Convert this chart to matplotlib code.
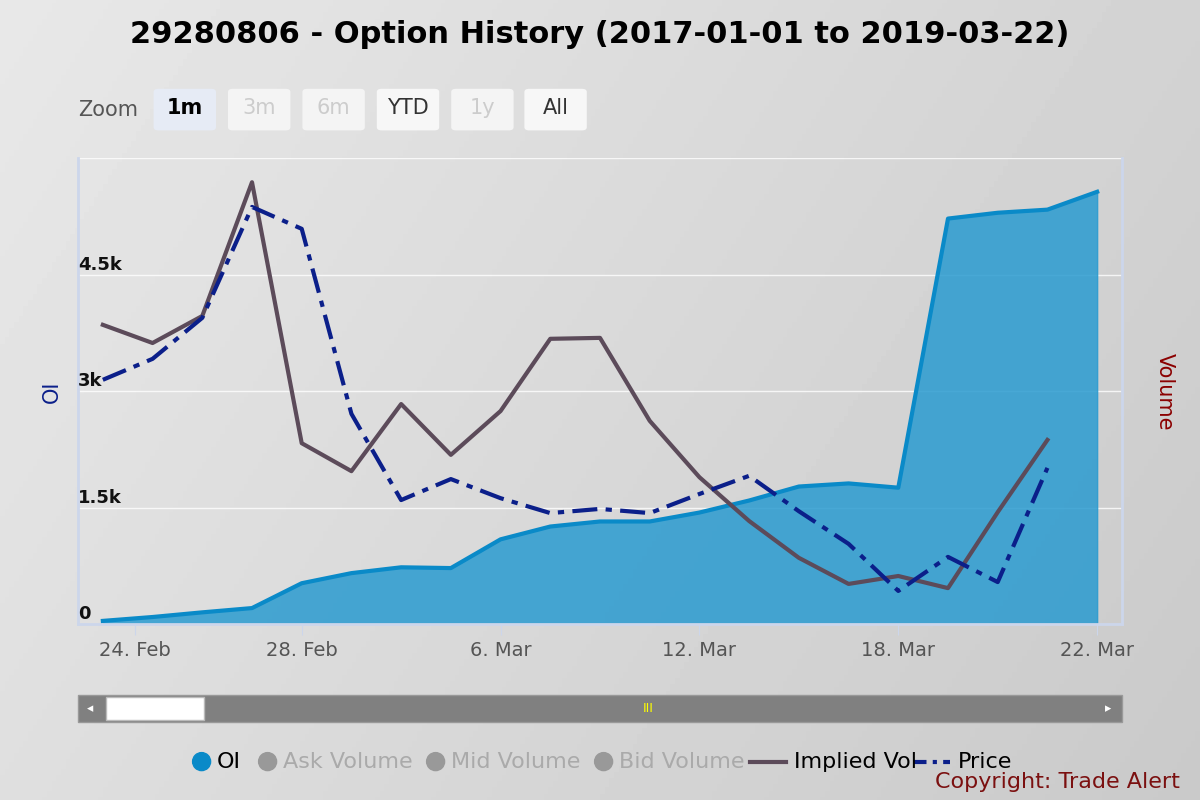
import numpy as np
import matplotlib.pyplot as plt
from matplotlib.patches import Rectangle, FancyBboxPatch, Ellipse

dates = ["22 Feb", "25 Feb", "26 Feb", "27 Feb", "28 Feb", "1 Mar", "4 Mar", "5 Mar", "6 Mar",
         "7 Mar", "8 Mar", "11 Mar", "12 Mar", "13 Mar", "14 Mar", "15 Mar", "18 Mar",
         "19 Mar", "20 Mar", "21 Mar", "22 Mar"]
oi = [40, 90, 150, 205, 525, 655, 730, 720, 1090, 1255, 1320, 1320, 1435, 1590, 1770,
      1810, 1755, 5220, 5295, 5335, 5565]
implied_vol = [64.2, 60.3, 66.1, 94.8, 38.8, 32.8, 47.2, 36.3, 45.7, 61.2, 61.4, 43.6,
               31.5, 22.1, 14.2, 8.6, 10.3, 7.7, 24.0, 39.5]
price = [52.4, 56.9, 65.7, 89.5, 84.8, 45.1, 26.6, 31.1, 27.0, 23.8, 24.7, 23.8, 27.9,
         31.8, 24.2, 17.2, 7.1, 14.4, 9.0, 33.5]
tick_pos = [0.64, 4, 8, 12, 16, 20]
tick_labels = ["24. Feb", "28. Feb", "6. Mar", "12. Mar", "18. Mar", "22. Mar"]

fig = plt.figure(figsize=(12, 8), dpi=100)
bg = fig.add_axes([0, 0, 1, 1], zorder=-10)
grad = np.linspace(0, 1, 256)
bg.imshow(0.91 - 0.12 * (grad[None, :] * 0.7 + grad[:, None] * 0.3), cmap="gray",
          vmin=0, vmax=1, aspect="auto", extent=[0, 1, 0, 1])
bg.set_axis_off()

ax = fig.add_axes([0.065, 0.22, 0.87, 0.5825])
ax.patch.set_alpha(0)
x = np.arange(len(oi))
ax.fill_between(x, oi, color="#2a9bd0", alpha=0.85, zorder=2)
ax.plot(x, oi, color="#0a8ac8", lw=3, zorder=3)
ax.set_xlim(-0.5, 20.5)
ax.set_ylim(0, 6000)
ax.set_yticks([0, 1500, 3000, 4500, 6000])
ax.set_yticklabels([])
ax.tick_params(axis="y", length=0)
ax.grid(axis="y", color="white", lw=1, alpha=0.8)
for v, lab in [(0, "0"), (1500, "1.5k"), (3000, "3k"), (4500, "4.5k")]:
    ax.text(0.0, v + 60, lab, transform=ax.get_yaxis_transform(), fontsize=13,
            fontweight="bold", color="#111")
ax.set_xticks(tick_pos)
ax.set_xticklabels(tick_labels, fontsize=14, color="#555")
ax.tick_params(axis="x", length=8, color="#ccd6eb", pad=4)
for s in ["top", "right"]:
    ax.spines[s].set_visible(False)
ax.spines["left"].set_color("#ccd6eb")
ax.spines["left"].set_linewidth(2)
ax.spines["bottom"].set_color("#ccd6eb")
ax.spines["bottom"].set_linewidth(2)

ax2 = ax.twinx()
ax2.set_ylim(0, 100)
ax2.plot(x[:len(implied_vol)], implied_vol, color="#5c4b5a", lw=3, zorder=4)
ax2.plot(x[:len(price)], price, color="#0b1f8a", lw=3, ls=(0, (6, 2, 1.5, 2)), zorder=5)
ax2.set_yticks([])
ax2.spines["top"].set_visible(False)
ax2.spines["left"].set_visible(False)
ax2.spines["bottom"].set_visible(False)
ax2.spines["right"].set_color("#ccd6eb")
ax2.spines["right"].set_linewidth(2)

fig.text(0.035, 0.51, "OI", rotation=90, color="#0b1f8a", fontsize=15, va="center")
fig.text(0.962, 0.51, "Volume", rotation=270, color="#8b0000", fontsize=15, va="center")
fig.text(0.5, 0.957, "29280806 - Option History (2017-01-01 to 2019-03-22)", ha="center",
         fontsize=22, fontweight="bold", va="center")

# zoom buttons
fig.text(0.065, 0.863, "Zoom", fontsize=15, color="#555", va="center")
buttons = [("1m", 0.128, "#e6ebf5", "black", "bold"), ("3m", 0.19, "#f4f4f4", "#ccc", "normal"),
           ("6m", 0.252, "#f4f4f4", "#ccc", "normal"), ("YTD", 0.314, "#f7f7f7", "#333", "normal"),
           ("1y", 0.376, "#f4f4f4", "#ccc", "normal"), ("All", 0.437, "#f7f7f7", "#333", "normal")]
for lab, bx, fc, tc, fw in buttons:
    fig.patches.append(FancyBboxPatch((bx, 0.837), 0.052, 0.052, boxstyle="round,pad=0,rounding_size=0.004",
                                      transform=fig.transFigure, fc=fc, ec="none"))
    fig.text(bx + 0.026, 0.865, lab, ha="center", va="center", fontsize=15, color=tc, fontweight=fw)

# navigator scrollbar
fig.patches.append(Rectangle((0.065, 0.098), 0.87, 0.033, transform=fig.transFigure, fc="#808080", ec="#999"))
fig.patches.append(Rectangle((0.088, 0.1), 0.082, 0.029, transform=fig.transFigure, fc="white", ec="#bbb"))
fig.text(0.075, 0.114, "◂", color="white", fontsize=9, ha="center", va="center")
fig.text(0.923, 0.114, "▸", color="white", fontsize=9, ha="center", va="center")
fig.text(0.54, 0.115, "III", color="yellow", fontsize=9, ha="center", va="center")

# legend
ly = 0.048
items = [("OI", 0.168, "#0a8ac8", "black"), ("Ask Volume", 0.223, "#999", "#aaa"),
         ("Mid Volume", 0.363, "#999", "#aaa"), ("Bid Volume", 0.503, "#999", "#aaa")]
for lab, lx, mc, tc in items:
    fig.patches.append(Ellipse((lx, ly), 0.015, 0.0225, transform=fig.transFigure, color=mc))
    fig.text(lx + 0.0125, ly, lab, fontsize=16, color=tc, va="center")
fig.lines.append(plt.Line2D([0.625, 0.655], [ly, ly], transform=fig.transFigure, color="#5c4b5a", lw=3))
fig.text(0.662, ly, "Implied Vol", fontsize=16, va="center")
fig.lines.append(plt.Line2D([0.762, 0.792], [ly, ly], transform=fig.transFigure, color="#0b1f8a", lw=3,
                            ls=(0, (3, 1.5, 1, 1.5))))
fig.text(0.798, ly, "Price", fontsize=16, va="center")
fig.text(0.983, 0.022, "Copyright: Trade Alert", fontsize=16, color="#7b1010", ha="right", va="center")

fig.savefig("out.png", dpi=100)
